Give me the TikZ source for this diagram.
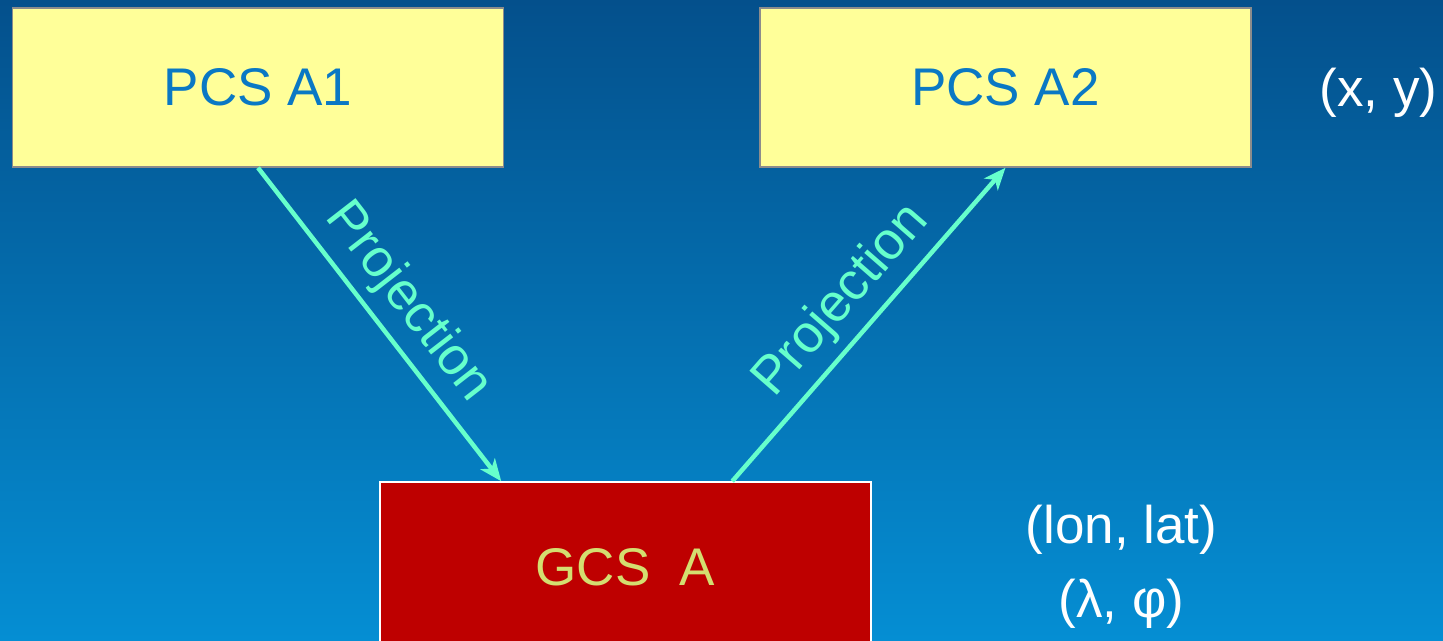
\documentclass[tikz,border=0pt]{standalone}
\usepackage{fontspec}
\setmainfont{Liberation Sans}
\usepackage{tikz}
\usetikzlibrary{arrows.meta}

\definecolor{bgtop}{HTML}{04508C}
\definecolor{bgbottom}{HTML}{058ED3}
\definecolor{pcsfill}{HTML}{FFFF99}
\definecolor{pcstext}{HTML}{0A78C4}
\definecolor{gcsfill}{HTML}{BE0000}
\definecolor{gcstext}{HTML}{D4DE70}
\definecolor{projcolor}{HTML}{66FFCC}

\begin{document}
\begin{tikzpicture}[x=1pt,y=1pt,>={Stealth[length=22pt,width=18pt,inset=6pt]},node distance=747.5pt,
    big font/.style={font=\fontsize{53}{60}\selectfont},
    pcs node/.style={rectangle,draw=gray!90,line width=1.5pt,fill=pcsfill,text=pcstext,minimum width=491pt,minimum height=159pt,inner sep=0pt,big font},
    gcs node/.style={rectangle,draw=white,line width=1.5pt,fill=gcsfill,text=gcstext,minimum width=491pt,minimum height=170pt,inner sep=0pt,big font},
    coord node/.style={text=white,inner sep=0pt,big font},
    proj/.style={->,draw=projcolor,line width=4.5pt},
    proj label/.style={midway,sloped,above=7pt,inner sep=2pt,text=projcolor,big font}]
    \useasboundingbox (0,0) rectangle (1443,640);
    \clip (0,0) rectangle (1443,640);
    \shade[top color=bgtop,bottom color=bgbottom] (0,0) rectangle (1443,640);

    \node[pcs node] (a1) at (258,552.5) {PCS A1};
    \node[pcs node] (a2) [right of=a1] {PCS A2};
    \node[gcs node] (g) at (625.5,73) {GCS\ \ A};

    \node[coord node] (xy) at (1378.5,547) {(x, y)};
    \node[coord node] (lonlat) at (1121.5,110) {(lon, lat)};
    \node[coord node] (lamphi) [below of=lonlat,node distance=74pt] {(λ, φ)};

    \draw[proj] (a1.south) -- ([xshift=122pt]g.north west)
        node[proj label] {Projection};
    \draw[proj] ([xshift=353pt]g.north west) -- (a2.south)
        node[proj label] {Projection};
\end{tikzpicture}
\end{document}
